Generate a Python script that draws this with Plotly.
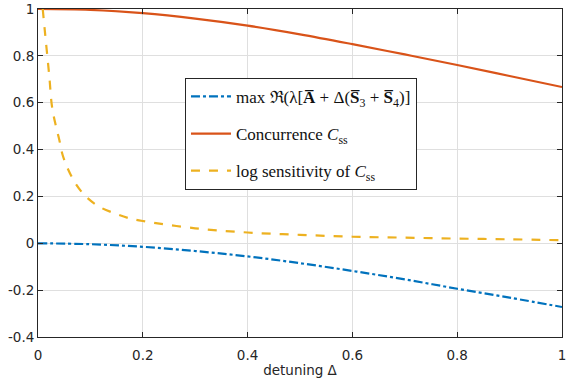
"""
detuning 차트
"""
import plotly.graph_objects as go

# 데이터
delta = [0.0, 0.1, 0.2, 0.3, 0.4, 0.5, 0.6, 0.7, 0.8, 0.9, 1.0]
eig_max = [0.0, -0.004, -0.015, -0.033, -0.056, -0.085, -0.118, -0.154, -0.194, -0.232, -0.272]
concurrence = [1.0, 0.996, 0.982, 0.959, 0.929, 0.892, 0.850, 0.806, 0.761, 0.714, 0.667]

delta_sens = [0.009, 0.0153, 0.0216, 0.0267, 0.0344, 0.0407, 0.047, 0.058, 0.0725,
              0.0916, 0.117, 0.146, 0.174, 0.2, 0.3, 0.4, 0.5, 0.6, 0.7, 0.8, 0.9, 1.0]
log_sens = [1.0, 0.855, 0.712, 0.584, 0.498, 0.441, 0.377, 0.313, 0.252,
            0.199, 0.156, 0.128, 0.107, 0.095, 0.064, 0.046, 0.036, 0.028, 0.024, 0.020, 0.017, 0.013]

xticks = [0, 0.2, 0.4, 0.6, 0.8, 1]
xtick_text = ["0", "0.2", "0.4", "0.6", "0.8", "1"]
yticks = [-0.4, -0.2, 0, 0.2, 0.4, 0.6, 0.8, 1]
ytick_text = ["-0.4", "-0.2", "0", "0.2", "0.4", "0.6", "0.8", "1"]

fig = go.Figure()

# 고유값 실수부 최대값
fig.add_trace(go.Scatter(
    x=delta, y=eig_max, mode='lines', line_shape='spline',
    name="max ℜ(λ[<b>A\u0305</b> + Δ(<b>S\u0305</b><sub>3</sub> + <b>S\u0305</b><sub>4</sub>)]",
    legendgroup='a',
    line=dict(color='#0072BD', width=2.2, dash='dashdot')
))

# Concurrence
fig.add_trace(go.Scatter(
    x=delta, y=concurrence, mode='lines', line_shape='spline',
    name="Concurrence <i>C</i><sub>ss</sub>",
    legendgroup='b',
    line=dict(color='#D95319', width=2.2)
))

# log sensitivity
fig.add_trace(go.Scatter(
    x=delta_sens, y=log_sens, mode='lines', line_shape='spline',
    name="log sensitivity of <i>C</i><sub>ss</sub>",
    legendgroup='c',
    line=dict(color='#EDB120', width=2.2, dash='dash')
))

axis_style = dict(
    showline=True, linecolor='#262626', linewidth=1, mirror='ticks',
    ticks='inside', ticklen=5, tickcolor='#262626',
    showgrid=True, gridcolor='#dfdfdf', gridwidth=1,
    zeroline=False, automargin=False,
    tickfont=dict(family='DejaVu Sans', size=13.5, color='#262626'),
)

fig.update_layout(
    width=576, height=384,
    margin=dict(l=38, r=14, t=9, b=47),
    plot_bgcolor='white',
    paper_bgcolor='white',
    showlegend=True,
    legend=dict(
        x=0.2805, y=0.79, xanchor='left', yanchor='top',
        bgcolor='white', bordercolor='#262626', borderwidth=1,
        font=dict(family='Liberation Serif, DejaVu Serif, serif', size=17, color='#111111'),
        traceorder='grouped', tracegroupgap=12, itemwidth=40,
    ),
)

fig.update_xaxes(
    range=[0, 1], tickvals=xticks, ticktext=xtick_text,
    ticklabelstandoff=6,
    title=dict(text='detuning Δ', standoff=3,
               font=dict(family='DejaVu Sans', size=13.5, color='#262626')),
    **axis_style
)
fig.update_yaxes(
    range=[-0.4, 1], tickvals=yticks, ticktext=ytick_text,
    **axis_style
)

# 페이지 기본 여백 제거
fig.write_html("out.html", config={'displayModeBar': False},
               post_script="document.body.style.margin='0';")
